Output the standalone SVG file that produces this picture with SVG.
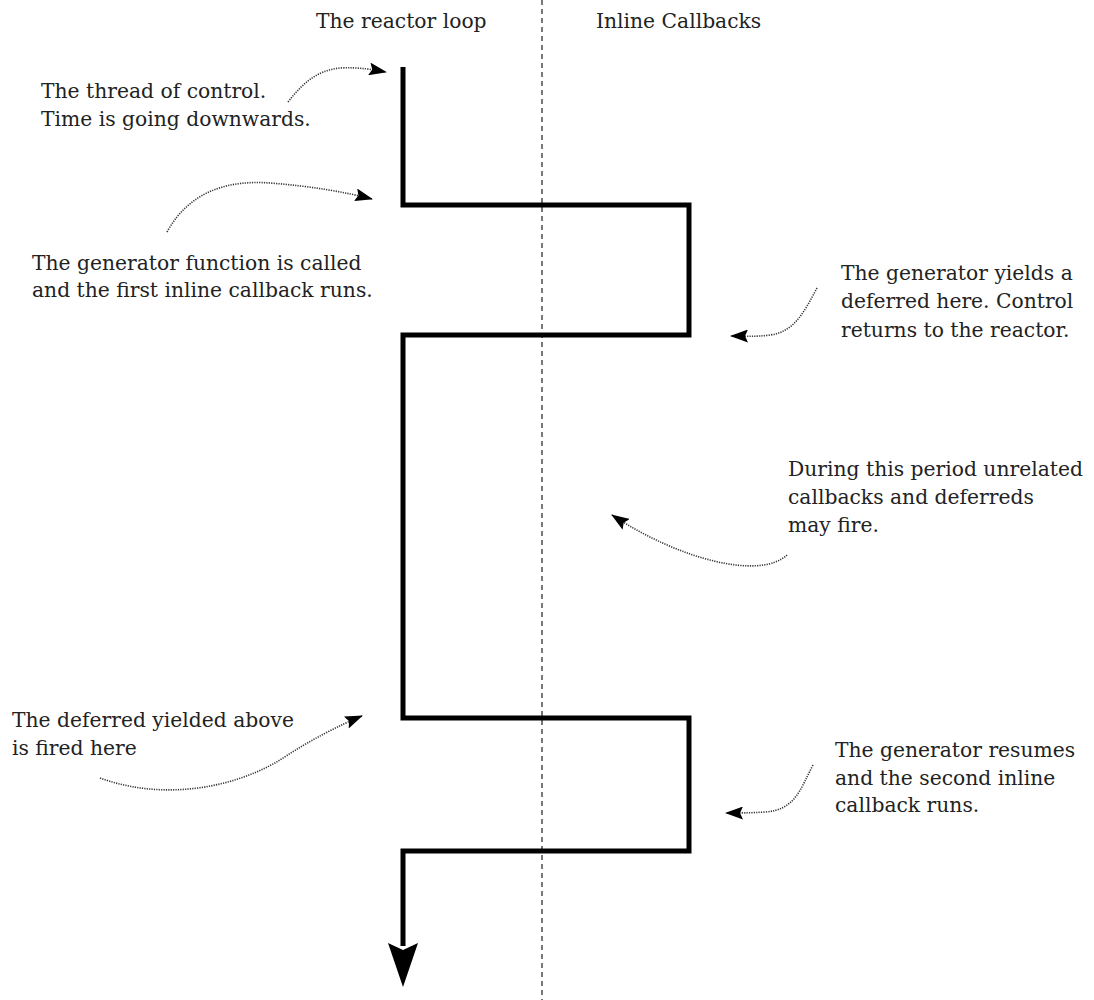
<svg xmlns="http://www.w3.org/2000/svg" width="1094" height="1000" viewBox="0 0 1094 1000">
<style>
text{font-family:"DejaVu Serif","Liberation Serif",serif;font-size:20.3px;fill:#222}
.note{fill:none;stroke:#333;stroke-width:1.6;stroke-dasharray:1.2 1.2}
.main{fill:none;stroke:#000;stroke-width:5;stroke-linejoin:miter}
.divider{stroke:#777;stroke-width:2;stroke-dasharray:5 4}
</style>
<defs>
<marker id="ah" viewBox="0 0 18 13" refX="17" refY="6.5" markerWidth="18" markerHeight="13" markerUnits="userSpaceOnUse" orient="auto">
<path d="M0,0 L18,6.5 L0,13 L3,6.5 Z" fill="#000"/>
</marker>
</defs>
<rect width="1094" height="1000" fill="#fff"/>
<g id="divider"><line class="divider" x1="542" y1="0" x2="542" y2="1000"/></g>
<g id="titles">
<text x="316" y="28">The reactor loop</text>
<text x="596" y="28">Inline Callbacks</text>
</g>
<g id="thread">
<path class="main" d="M403,67 V205 H689 V335 H403 V718 H689 V851 H403 V946"/>
<path d="M388,943 L403,950 L418,943 L403,987 Z" fill="#000"/>
</g>
<g id="note-thread">
<text x="41" y="98">The thread of control.</text>
<text x="41" y="126">Time is going downwards.</text>
</g>
<g id="note-called">
<text x="32" y="270">The generator function is called</text>
<text x="32" y="297">and the first inline callback runs.</text>
</g>
<g id="note-yields">
<text x="841" y="280">The generator yields a</text>
<text x="841" y="308">deferred here. Control</text>
<text x="841" y="337">returns to the reactor.</text>
</g>
<g id="note-period">
<text x="788" y="476">During this period unrelated</text>
<text x="788" y="504">callbacks and deferreds</text>
<text x="788" y="532">may fire.</text>
</g>
<g id="note-fired">
<text x="12" y="727">The deferred yielded above</text>
<text x="12" y="755">is fired here</text>
</g>
<g id="note-resumes">
<text x="835" y="757">The generator resumes</text>
<text x="835" y="785">and the second inline</text>
<text x="835" y="812">callback runs.</text>
</g>
<g id="connectors">
<path class="note" d="M288,102 C305,80 320,70 340,68 C360,67 375,70 386,72" marker-end="url(#ah)"/>
<path class="note" d="M167,232 C190,190 230,180 270,183 C310,186 345,192 372,199" marker-end="url(#ah)"/>
<path class="note" d="M817,288 C805,310 795,332 770,335 C755,337 745,336 731,336" marker-end="url(#ah)"/>
<path class="note" d="M787,555 C760,580 680,560 612,515" marker-end="url(#ah)"/>
<path class="note" d="M100,778 C160,800 230,790 280,760 C310,740 340,725 362,716" marker-end="url(#ah)"/>
<path class="note" d="M813,765 C800,790 795,810 765,812 C750,813 738,813 726,813" marker-end="url(#ah)"/>
</g>
</svg>
